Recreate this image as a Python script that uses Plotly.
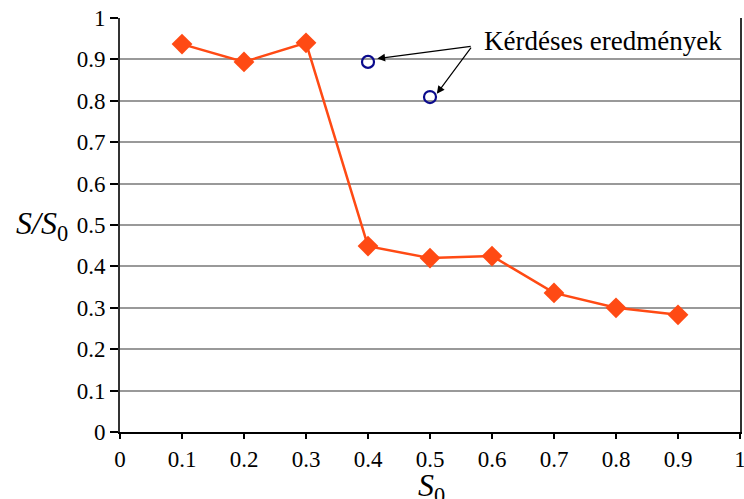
import plotly.graph_objects as go

s0 = [0.1, 0.2, 0.3, 0.4, 0.5, 0.6, 0.7, 0.8, 0.9]
ratio = [0.937, 0.894, 0.940, 0.449, 0.420, 0.425, 0.336, 0.300, 0.283]
q_x = [0.4, 0.5]
q_y = [0.894, 0.809]
tick_vals = [0, 0.1, 0.2, 0.3, 0.4, 0.5, 0.6, 0.7, 0.8, 0.9, 1]
tick_text = ["0", "0.1", "0.2", "0.3", "0.4", "0.5", "0.6", "0.7", "0.8", "0.9", "1"]
note_text = "Kérdéses eredmények"

FONT = "Liberation Serif"

fig = go.Figure()
fig.add_trace(go.Scatter(
    x=s0, y=ratio, mode="lines+markers",
    line=dict(color="#FF4A14", width=2.5),
    marker=dict(symbol="diamond", size=16, color="#FF4A14"),
    showlegend=False, cliponaxis=False))
fig.add_trace(go.Scatter(
    x=q_x, y=q_y, mode="markers",
    marker=dict(symbol="circle-open", size=12, color="#0A0A8C", line=dict(width=2.2)),
    showlegend=False, cliponaxis=False))

tail_x, tail_y = 0.568, 0.932
for qx, qy, dx, dy in zip(q_x, q_y, [0.015, 0.011], [0.008, 0.008]):
    fig.add_annotation(x=qx + dx, y=qy + dy, ax=tail_x, ay=tail_y,
                       xref="x", yref="y", axref="x", ayref="y",
                       text="", showarrow=True, arrowhead=2, arrowsize=1.3,
                       arrowwidth=1.2, arrowcolor="black", standoff=0)
fig.add_annotation(x=0.584, y=0.944, xref="x", yref="y", text=note_text,
                   showarrow=False, xanchor="left", yanchor="middle",
                   font=dict(family=FONT, size=27, color="black"))
fig.add_annotation(x=-0.126, y=0.50, xref="paper", yref="paper", text="<i>S/S</i><sub>0</sub>",
                   showarrow=False, xanchor="center", yanchor="middle",
                   font=dict(family=FONT, size=32, color="black"))
fig.add_annotation(x=0.503, y=-0.135, xref="paper", yref="paper", text="<i>S</i><sub>0</sub>",
                   showarrow=False, xanchor="center", yanchor="middle",
                   font=dict(family=FONT, size=32, color="black"))

fig.update_layout(
    width=744, height=499,
    margin=dict(l=120, r=4, t=18, b=67, autoexpand=False),
    paper_bgcolor="white", plot_bgcolor="white",
    font=dict(family=FONT, size=23, color="black"),
)
fig.update_xaxes(
    range=[0, 1], tickvals=tick_vals, ticktext=tick_text, automargin=False,
    showgrid=False, zeroline=False, showline=True, linecolor="black", linewidth=2,
    ticks="outside", ticklen=5, tickwidth=1.5, tickcolor="black",
    ticklabeloverflow="allow", tickfont=dict(family=FONT, size=23))
fig.update_yaxes(
    range=[0, 1], tickvals=tick_vals, ticktext=tick_text, automargin=False,
    showgrid=True, gridcolor="#999999", gridwidth=1.5, zeroline=False,
    showline=True, linecolor="#333333", linewidth=2, mirror=True,
    ticks="outside", ticklen=8, tickwidth=1.5, tickcolor="black",
    ticklabeloverflow="allow", tickfont=dict(family=FONT, size=23))

# Remove the default page margin so the 744x499 figure fills the window exactly.
fig.write_html("out.html",
               config={"displayModeBar": False},
               post_script="document.body.style.margin='0';document.body.style.overflow='hidden';")
